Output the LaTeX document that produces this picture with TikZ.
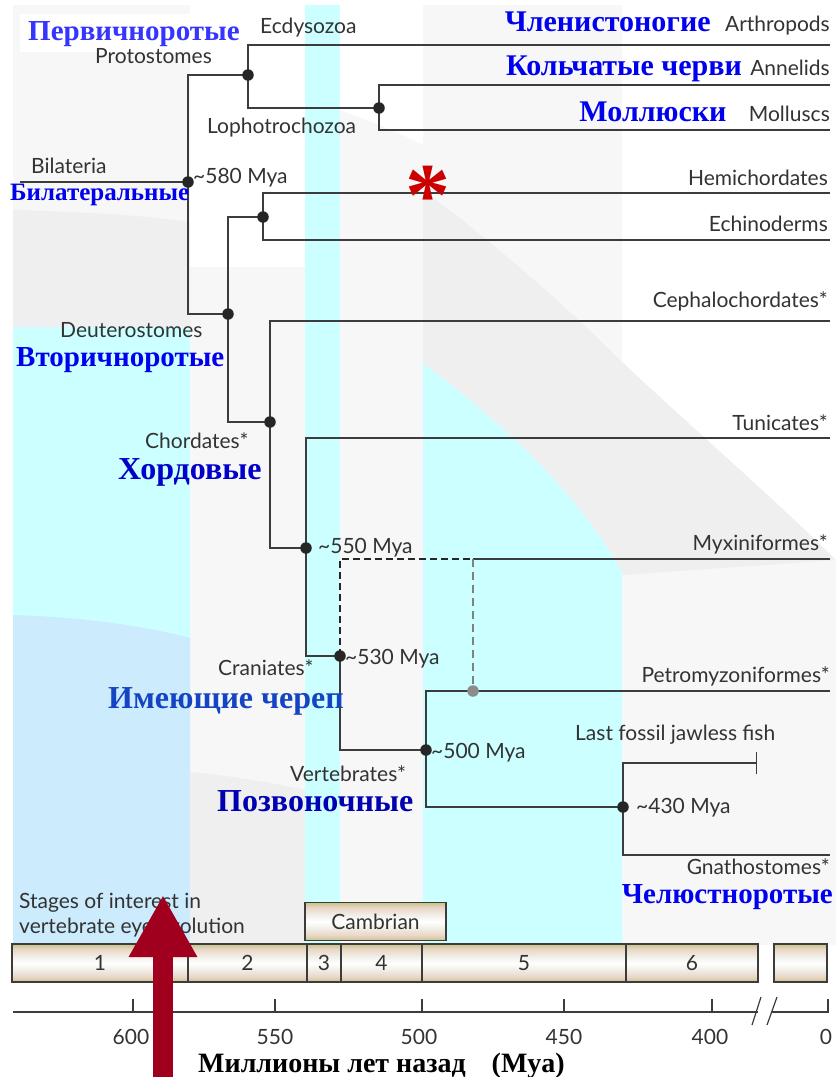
\documentclass[tikz,border=0pt]{standalone}
\usepackage{fontspec}
\setmainfont{Liberation Serif}
\newfontfamily\labfont{Lato}
\usetikzlibrary{arrows.meta,positioning}

\definecolor{panelgrey}{HTML}{F7F7F7}
\definecolor{ringgrey}{HTML}{EFEFEF}
\definecolor{stagecyan}{HTML}{CCFFFF}
\definecolor{stageblue}{HTML}{CCEBFD}
\definecolor{branchgrey}{HTML}{3C3C3C}
\definecolor{labgrey}{HTML}{333333}
\definecolor{rublue}{HTML}{0000EE}
\definecolor{rulight}{HTML}{3535FF}
\definecolor{runavy}{HTML}{0000B0}
\definecolor{ruteal}{HTML}{1444C4}
\definecolor{barolive}{HTML}{C6C488}
\definecolor{barpink}{HTML}{EAD6C8}
\definecolor{barlight}{HTML}{F0EEE6}
\definecolor{arrowred}{HTML}{A0001E}
\definecolor{starred}{HTML}{CC0000}

\pgfdeclareverticalshading{stagebar}{100bp}{color(0bp)=(barolive); color(25bp)=(barolive); color(32bp)=(barpink); color(41bp)=(barlight); color(50bp)=(white); color(59bp)=(barlight); color(68bp)=(barpink); color(75bp)=(barolive); color(100bp)=(barolive)}

\tikzset{
  branch/.style={draw=branchgrey, line width=1.4pt},
  dashbranch/.style={draw=black!85, line width=2.8pt, dash pattern=on 7pt off 4pt},
  greydash/.style={draw=gray, line width=1.2pt, dash pattern=on 8pt off 5pt},
  dot/.style={circle, fill=black!85, inner sep=0pt, minimum size=11.5pt},
  greydot/.style={circle, fill=gray!90, inner sep=0pt, minimum size=11.5pt},
  eng/.style={font=\labfont\fontsize{21}{25}\selectfont, text=labgrey, inner sep=0pt},
  rus/.style={font=\bfseries\fontsize{30}{33}\selectfont, text=rublue, inner sep=0pt},
  stagebox/.style={draw=branchgrey, line width=1.2pt, shading=stagebar, minimum height=38pt, inner sep=0pt, font=\labfont\fontsize{21}{25}\selectfont, text=labgrey},
  axisline/.style={draw=branchgrey, line width=1.2pt},
  bigarrow/.style={draw=arrowred, line width=20pt, -{Triangle[length=62pt,width=64pt]}}
}

\begin{document}
\begin{tikzpicture}[x=1pt,y=-1pt]
\useasboundingbox (0,0) rectangle (836,1077);

% background bands
\fill[panelgrey] (13,5) rectangle (836,945);
\fill[white] (20,14) rectangle (190,52);
\fill[ringgrey] (13,210) .. controls (90,212) and (150,216) .. (190,222) -- (190,327) -- (13,327) -- cycle;
\fill[stagecyan] (13,327) rectangle (190,945);
\fill[stageblue] (13,615) .. controls (80,617) and (140,625) .. (190,638) -- (190,945) -- (13,945) -- cycle;
\fill[white] (190,5) rectangle (305,267);
\fill[ringgrey] (190,772) .. controls (230,776) and (270,782) .. (305,790) -- (305,945) -- (190,945) -- cycle;
\fill[stagecyan] (305,5) rectangle (340,945);
\fill[white] (340,5) -- (340,110) .. controls (370,121) and (400,133) .. (423,145) -- (423,5) -- cycle;
\fill[ringgrey] (423,190) .. controls (490,240) and (560,300) .. (622,362) -- (622,572) .. controls (570,480) and (490,415) .. (423,363) -- cycle;
\fill[stagecyan] (423,363) .. controls (490,415) and (570,480) .. (622,572) -- (622,945) -- (423,945) -- cycle;
\fill[white] (622,5) -- (622,362) .. controls (700,435) and (770,495) .. (836,560) -- (836,5) -- cycle;
\fill[ringgrey] (622,362) .. controls (700,435) and (770,495) .. (836,560) -- (622,575) -- cycle;

% junctions and tips
\coordinate (bilL) at (20,182);
\coordinate (bil) at (188,182);
\coordinate (pro) at (248,75);
\coordinate (arth) at (830,45);
\coordinate (lop) at (379,108);
\coordinate (anne) at (830,85);
\coordinate (moll) at (830,130);
\coordinate (deu) at (228,314);
\coordinate (amb) at (263,217);
\coordinate (hemi) at (830,193);
\coordinate (echi) at (830,240);
\coordinate (cho) at (270,422);
\coordinate (ceph) at (830,321);
\coordinate (olf) at (306,548);
\coordinate (tuni) at (830,438);
\coordinate (cra) at (340,656);
\coordinate (myxJ) at (473,559);
\coordinate (myxE) at (830,559);
\coordinate (myxD) at (473,691);
\coordinate (ver) at (426,750);
\coordinate (petr) at (830,691);
\coordinate (gna) at (623,807);
\coordinate (fish) at (757,763);
\coordinate (gnaE) at (830,855);

% branches
\draw[branch] (bilL) -- (bil);
\draw[branch] (bil) |- (pro);
\draw[branch] (bil) |- (deu);
\draw[branch] (pro) |- (arth);
\draw[branch] (pro) |- (lop);
\draw[branch] (lop) |- (anne);
\draw[branch] (lop) |- (moll);
\draw[branch] (deu) |- (amb);
\draw[branch] (deu) |- (cho);
\draw[branch] (amb) |- (hemi);
\draw[branch] (amb) |- (echi);
\draw[branch] (cho) |- (ceph);
\draw[branch] (cho) |- (olf);
\draw[branch] (olf) |- (tuni);
\draw[branch] (olf) |- (cra);
\draw[branch] (cra) |- (ver);
\draw[dashbranch] (cra) |- (myxJ);
\draw[branch] (myxJ) -- (myxE);
\draw[greydash] (myxJ) -- (myxD);
\draw[branch] (ver) |- (petr);
\draw[branch] (ver) |- (gna);
\draw[branch,-{Bar[width=22pt,line width=1.4pt]}] (gna) |- (fish);
\draw[branch] (gna) |- (gnaE);

% dots
\node[dot] (bilDot) at (bil) {};
\node[dot] (proDot) at (pro) {};
\node[dot] (lopDot) at (lop) {};
\node[dot] (deuDot) at (deu) {};
\node[dot] (ambDot) at (amb) {};
\node[dot] (choDot) at (cho) {};
\node[dot] (olfDot) at (olf) {};
\node[dot] (craDot) at (cra) {};
\node[dot] (verDot) at (ver) {};
\node[dot] (gnaDot) at (gna) {};
\node[greydot] (myxDot) at (myxD) {};

% tip labels
\node[eng, anchor=base east] (arthE) at (830,31) {Arthropods};
\node[rus, base left=14pt of arthE] (arthR) {Членистоногие};
\node[eng, anchor=base east] (anneE) at (830,75) {Annelids};
\node[rus, base left=8pt of anneE] (anneR) {Кольчатые черви};
\node[eng, anchor=base east] (mollE) at (830,121) {Molluscs};
\node[rus, base left=22pt of mollE] (mollR) {Моллюски};
\node[eng, anchor=base east] (hemiE) at (828,185) {Hemichordates};
\node[eng, anchor=base east] (echiE) at (828,231) {Echinoderms};
\node[eng, anchor=base east] (cephE) at (828,307) {Cephalochordates*};
\node[eng, anchor=base east] (tuniE) at (828,430) {Tunicates*};
\node[eng, anchor=base east] (myxE) at (828,550) {Myxiniformes*};
\node[eng, anchor=base east] (petrE) at (830,682) {Petromyzoniformes*};
\node[eng, anchor=base west] (fishE) at (575,740) {Last fossil jawless fish};
\node[eng, anchor=base east] (gnaE) at (830,874) {Gnathostomes*};
\node[rus, anchor=base east, font=\bfseries\fontsize{29}{32}\selectfont] (gnaR) at (833,903) {Челюстноротые};
\node[text=starred, inner sep=0pt, font=\bfseries\fontsize{90}{90}\selectfont] (star) at (428,196) {*};

% clade labels
\node[rus, text=rulight, anchor=base west, font=\bfseries\fontsize{29}{32}\selectfont] (proR) at (28,40) {Первичноротые};
\node[eng, anchor=base west] (proE) at (95,63) {Protostomes};
\node[eng, anchor=base west] (ecdE) at (260,33) {Ecdysozoa};
\node[eng, anchor=base west] (lopE) at (207,133) {Lophotrochozoa};
\node[eng, anchor=base west] (bilE) at (31,173) {Bilateria};
\node[rus, anchor=base west, font=\bfseries\fontsize{25}{28}\selectfont] (bilR) at (10,200) {Билатеральные};
\node[eng, anchor=base west] (myaA) at (193,183) {\textasciitilde580 Mya};
\node[eng, anchor=base west] (deuE) at (60,337) {Deuterostomes};
\node[rus, anchor=base west, font=\bfseries\fontsize{29}{32}\selectfont] (deuR) at (16,366) {Вторичноротые};
\node[eng, anchor=base west] (choE) at (145,448) {Chordates*};
\node[rus, anchor=base west, text=rublue!85!black, font=\bfseries\fontsize{32}{35}\selectfont] (choR) at (118,479) {Хордовые};
\node[eng, anchor=base west] (myaB) at (318,553) {\textasciitilde550 Mya};
\node[eng, anchor=base west] (myaC) at (345,664) {\textasciitilde530 Mya};
\node[eng, anchor=base west] (craE) at (218,675) {Craniates*};
\node[rus, text=ruteal, anchor=base west, font=\bfseries\fontsize{32}{35}\selectfont] (craR) at (108,708) {Имеющие череп};
\node[eng, anchor=base west] (myaD) at (431,758) {\textasciitilde500 Mya};
\node[eng, anchor=base west] (verE) at (290,781) {Vertebrates*};
\node[rus, text=runavy, anchor=base west, font=\bfseries\fontsize{32}{35}\selectfont] (verR) at (217,811) {Позвоночные};
\node[eng, anchor=base west] (myaE) at (636,813) {\textasciitilde430 Mya};

% stages
\node[eng, anchor=base west] (stageA) at (19,908) {Stages of interest in};
\node[eng, anchor=base west] (stageB) at (19,933) {vertebrate eye evolution};
\node[stagebox, minimum width=141pt] (camb) at (375.5,921.5) {Cambrian};
\node[stagebox, minimum width=176pt] (st1) at (100,963) {1};
\node[stagebox, minimum width=119pt] (st2) at (247.5,963) {2};
\node[stagebox, minimum width=34pt] (st3) at (324,963) {3};
\node[stagebox, minimum width=81pt] (st4) at (381.5,963) {4};
\node[stagebox, minimum width=204pt] (st5) at (524,963) {5};
\node[stagebox, minimum width=132pt] (st6) at (692,963) {6};
\node[stagebox, minimum width=53pt] (st7) at (800.5,963) {};

% time axis
\coordinate (axL) at (13,1012);
\coordinate (axB1) at (758,1012);
\coordinate (axB2) at (772,1012);
\coordinate (axR) at (828,1012);
\draw[axisline] (axL) -- (axB1);
\draw[axisline] (axB2) -- (axR) -- ++(0,-13);
\draw[axisline] (752,1025) -- (761,997);
\draw[axisline] (767,1025) -- (777,997);
\draw[axisline] (133,1012) -- (133,999);
\draw[axisline] (275,1012) -- (275,999);
\draw[axisline] (422,1012) -- (422,999);
\draw[axisline] (564,1012) -- (564,999);
\draw[axisline] (712,1012) -- (712,999);
\node[eng, anchor=base] (t600) at (131,1044) {600};
\node[eng, anchor=base] (t550) at (275,1044) {550};
\node[eng, anchor=base] (t500) at (419,1044) {500};
\node[eng, anchor=base] (t450) at (564,1044) {450};
\node[eng, anchor=base] (t400) at (710,1044) {400};
\node[eng, anchor=base] (t0) at (826,1044) {0};
\node[anchor=base west, inner sep=0pt, font=\bfseries\fontsize{28}{31}\selectfont] (axTitle) at (198,1072) {Миллионы лет назад\hspace{26pt}(Mya)};

% big arrow
\coordinate (arrBase) at (163,1090);
\coordinate (arrTip) at (163,895);
\draw[bigarrow] (arrBase) -- (arrTip);

\end{tikzpicture}
\end{document}
